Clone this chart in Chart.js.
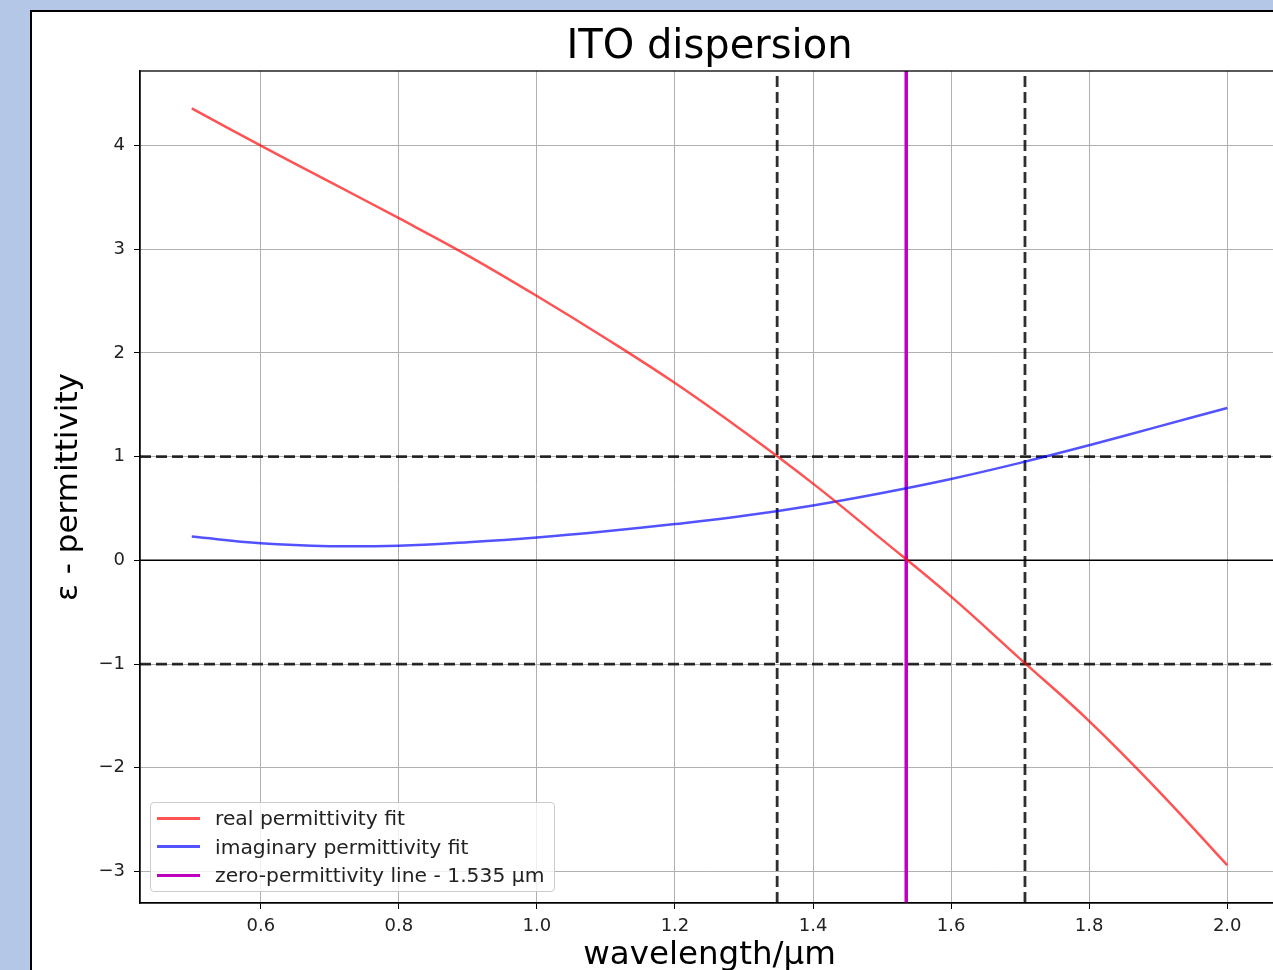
<!DOCTYPE html>
<html lang="en">
<head>
<meta charset="UTF-8">
<title>ITO dispersion</title>
<script src="https://cdn.jsdelivr.net/npm/chart.js"></script>
<style>
    body {
        margin: 0;
        background: #b4c7e7;
        overflow: hidden;
        width: 1273px;
        height: 970px;
        position: relative;
        font-family: "DejaVu Sans", sans-serif;
    }
    .panel {
        position: absolute;
        left: 30px;
        top: 10px;
        width: 1400px;
        height: 1100px;
        background: #fff;
        border-left: 2px solid #000;
        border-top: 2px solid #000;
    }
    .panel canvas { position: absolute; left: 0; top: 0; }
    /* legend drawn in html, sits on the plot corner */
    .legend {
        position: absolute;
        left: 150px;
        top: 802px;
        width: 405px;
        height: 90px;
        box-sizing: border-box;
        padding-top: 1px;
        background: rgba(255, 255, 255, 0.8);
        border: 1px solid #cccccc;
        border-radius: 4px;
    }
    .legend .row {
        height: 28.5px;
        display: flex;
        align-items: center;
        font-size: 20.3px;
        color: #222;
        white-space: nowrap;
    }
    .legend .swatch {
        width: 43px;
        height: 3px;
        margin-left: 6px;
        margin-right: 15px;
    }
</style>
</head>
<body>
<div class="panel">
    <canvas id="dispChart" width="1290" height="970"></canvas>
</div>
<div class="legend" id="legend"></div>

<script>
// datos
const wavelength = [0.5, 0.6, 0.7, 0.8, 0.9, 1.0, 1.1, 1.2, 1.3, 1.4, 1.5, 1.6, 1.7, 1.8, 1.9, 2.0];
const realEps = [4.36, 4.00, 3.65, 3.30, 2.94, 2.55, 2.14, 1.71, 1.24, 0.74, 0.20, -0.35, -0.95, -1.55, -2.22, -2.94];
const imagEps = [0.23, 0.165, 0.137, 0.142, 0.175, 0.22, 0.28, 0.35, 0.43, 0.53, 0.65, 0.785, 0.94, 1.11, 1.29, 1.47];
const zeroWl = 1.535;
const boundX = [1.348, 1.707];   // lineas verticales discontinuas
const boundY = [1, -1];          // lineas horizontales discontinuas
const xTicks = [0.6, 0.8, 1.0, 1.2, 1.4, 1.6, 1.8, 2.0];
const yTicks = [-3, -2, -1, 0, 1, 2, 3, 4];
const xRange = [0.425, 2.075];
const yRange = [-3.305, 4.72];

const labels = ['real permittivity fit', 'imaginary permittivity fit', 'zero-permittivity line - ' + zeroWl + ' μm'];
const colors = ['rgba(255, 0, 0, 0.68)', 'rgba(0, 0, 255, 0.68)', '#bf00bf'];

Chart.defaults.font.family = '"DejaVu Sans", sans-serif';
Chart.defaults.color = '#222';

const dashStyle = { borderColor: 'rgba(0,0,0,0.82)', borderWidth: 2.8, borderDash: [11, 5] };

const datasets = [
    {
        label: labels[0],
        data: wavelength.map((w, i) => ({ x: w, y: realEps[i] })),
        borderColor: colors[0], borderWidth: 2.5, tension: 0.4
    },
    {
        label: labels[1],
        data: wavelength.map((w, i) => ({ x: w, y: imagEps[i] })),
        borderColor: colors[1], borderWidth: 2.5, tension: 0.4
    },
    {
        label: labels[2],
        data: [{ x: zeroWl, y: yRange[0] }, { x: zeroWl, y: yRange[1] }],
        borderColor: colors[2], borderWidth: 3.5
    }
];
boundX.forEach(v => datasets.push(Object.assign({
    label: 'bound', data: [{ x: v, y: yRange[0] }, { x: v, y: yRange[1] }]
}, dashStyle)));
boundY.forEach(v => datasets.push(Object.assign({
    label: 'bound', data: [{ x: xRange[0], y: v }, { x: xRange[1], y: v }]
}, dashStyle)));
// eje cero
datasets.push({
    label: 'zero', data: [{ x: xRange[0], y: 0 }, { x: xRange[1], y: 0 }],
    borderColor: '#000', borderWidth: 1.5
});

// marco superior y derecho del area de la grafica
const frame = {
    id: 'frame',
    afterDraw(chart) {
        const a = chart.chartArea, c = chart.ctx;
        c.save();
        c.strokeStyle = '#000';
        c.lineWidth = 1.3;
        c.strokeRect(a.left, a.top, a.right - a.left, a.bottom - a.top);
        c.restore();
    }
};

new Chart(document.getElementById('dispChart'), {
    type: 'line',
    data: { datasets: datasets },
    plugins: [frame],
    options: {
        responsive: false,
        animation: false,
        devicePixelRatio: 1,
        layout: { padding: { left: 0, top: 0, right: 43, bottom: 0 } },
        elements: { point: { radius: 0 } },
        plugins: {
            legend: { display: false },
            tooltip: { enabled: false },
            title: {
                display: true,
                text: 'ITO dispersion',
                fullSize: false,
                color: '#000',
                font: { size: 40, weight: 'normal', lineHeight: 1.15 },
                padding: { top: 13, bottom: 0 }
            }
        },
        scales: {
            x: {
                type: 'linear',
                min: xRange[0], max: xRange[1],
                afterBuildTicks: s => { s.ticks = xTicks.map(v => ({ value: v })); },
                afterFit: s => { s.height = 79; },
                grid: { color: '#b0b0b0', lineWidth: 1, tickLength: 6, tickColor: '#000' },
                border: { display: true, color: '#000', width: 1.3 },
                ticks: {
                    font: { size: 18 }, padding: 7, maxRotation: 0, autoSkip: false,
                    callback: v => v.toFixed(1)
                },
                title: {
                    display: true, text: 'wavelength/μm', color: '#000',
                    font: { size: 32.5, lineHeight: 1.2 }, padding: { top: 0, bottom: 6.5 }
                }
            },
            y: {
                type: 'linear',
                min: yRange[0], max: yRange[1],
                afterBuildTicks: s => { s.ticks = yTicks.map(v => ({ value: v })); },
                afterFit: s => { s.width = 108; },
                grid: { color: '#b0b0b0', lineWidth: 1, tickLength: 6, tickColor: '#000' },
                border: { display: true, color: '#000', width: 1.3 },
                ticks: {
                    font: { size: 18 }, padding: 9, autoSkip: false,
                    callback: v => (v < 0 ? '\u2212' + Math.abs(v) : String(v))
                },
                title: {
                    display: true, text: 'ε - permittivity', color: '#000',
                    font: { size: 31, lineHeight: 1.2 }, padding: { top: 18, bottom: 0 }
                }
            }
        }
    }
});

// leyenda
const legendEl = document.getElementById('legend');
labels.forEach((txt, i) => {
    const row = document.createElement('div');
    row.className = 'row';
    const sw = document.createElement('span');
    sw.className = 'swatch';
    sw.style.background = colors[i];
    const t = document.createElement('span');
    t.textContent = txt;
    row.appendChild(sw);
    row.appendChild(t);
    legendEl.appendChild(row);
});
</script>
</body>
</html>
